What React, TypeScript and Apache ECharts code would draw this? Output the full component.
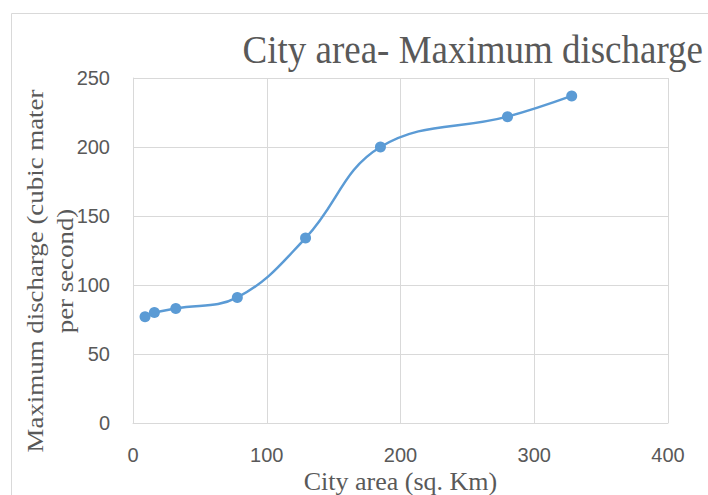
import React, { useEffect, useRef } from "react";
import * as echarts from "echarts";

const titleText = "City area- Maximum discharge";
const xAxisName = "City area (sq. Km)";
const yAxisNameLines = ["Maximum discharge (cubic mater", "per second)"];
const cityArea = [9, 16, 32, 78, 129, 185, 280, 328];
const maxDischarge = [77, 80, 83, 91, 134, 200, 222, 237];
const xTicks = { min: 0, max: 400, interval: 100 };
const yTicks = { min: 0, max: 250, interval: 50 };

export default function App() {
  const ref = useRef<HTMLDivElement>(null);
  useEffect(() => {
    if (!ref.current) return;
    const chart = echarts.init(ref.current, null, { renderer: "svg" });
    const gridColor = "#d9d9d9";
    const textColor = "#595959";
    chart.setOption({
      animation: false,
      backgroundColor: "#ffffff",
      grid: {
        left: 133,
        top: 78,
        width: 535,
        height: 345,
        containLabel: false,
        outerBoundsMode: "none",
      },
      xAxis: {
        type: "value",
        min: xTicks.min,
        max: xTicks.max,
        interval: xTicks.interval,
        name: xAxisName,
        nameLocation: "middle",
        nameGap: 45,
        nameMoveOverlap: false,
        nameTextStyle: { fontFamily: "Liberation Serif", fontSize: 26, color: textColor },
        axisLine: { show: true, lineStyle: { color: gridColor, width: 1 } },
        axisTick: { show: false },
        splitLine: { show: true, lineStyle: { color: gridColor, width: 1 } },
        axisLabel: { fontFamily: "Liberation Sans", fontSize: 20, color: textColor, margin: 22 },
      },
      yAxis: {
        type: "value",
        min: yTicks.min,
        max: yTicks.max,
        interval: yTicks.interval,
        axisLine: { show: true, lineStyle: { color: gridColor, width: 1 } },
        axisTick: { show: false },
        splitLine: { show: true, lineStyle: { color: gridColor, width: 1 } },
        axisLabel: { fontFamily: "Liberation Sans", fontSize: 20, color: textColor, margin: 23 },
      },
      graphic: [
        {
          type: "rect",
          silent: true,
          shape: { x: 11.5, y: 13.5, width: 900, height: 700 },
          style: { fill: "none", stroke: gridColor, lineWidth: 1 },
        },
        {
          type: "text",
          silent: true,
          x: 703,
          y: 49,
          scaleY: 1.1,
          style: {
            text: titleText,
            fontFamily: "Liberation Serif",
            fontSize: 37,
            fill: textColor,
            textAlign: "right",
            textVerticalAlign: "middle",
          },
        },
        {
          type: "text",
          silent: true,
          x: 50,
          y: 271,
          rotation: Math.PI / 2,
          scaleX: 1.12,
          style: {
            text: yAxisNameLines.join("\n"),
            fontFamily: "Liberation Serif",
            fontSize: 24,
            lineHeight: 30,
            fill: textColor,
            textAlign: "center",
            textVerticalAlign: "middle",
          },
        },
      ],
      series: [
        {
          type: "line",
          data: cityArea.map((x, i) => [x, maxDischarge[i]]),
          smooth: 0.4,
          symbol: "circle",
          symbolSize: 11,
          lineStyle: { color: "#5b9bd5", width: 2.5 },
          itemStyle: { color: "#5b9bd5" },
        },
      ],
    });
    return () => chart.dispose();
  }, []);
  return (
    <div
      ref={ref}
      style={{ position: "fixed", left: 0, top: 0, width: "708px", height: "495px" }}
    />
  );
}
